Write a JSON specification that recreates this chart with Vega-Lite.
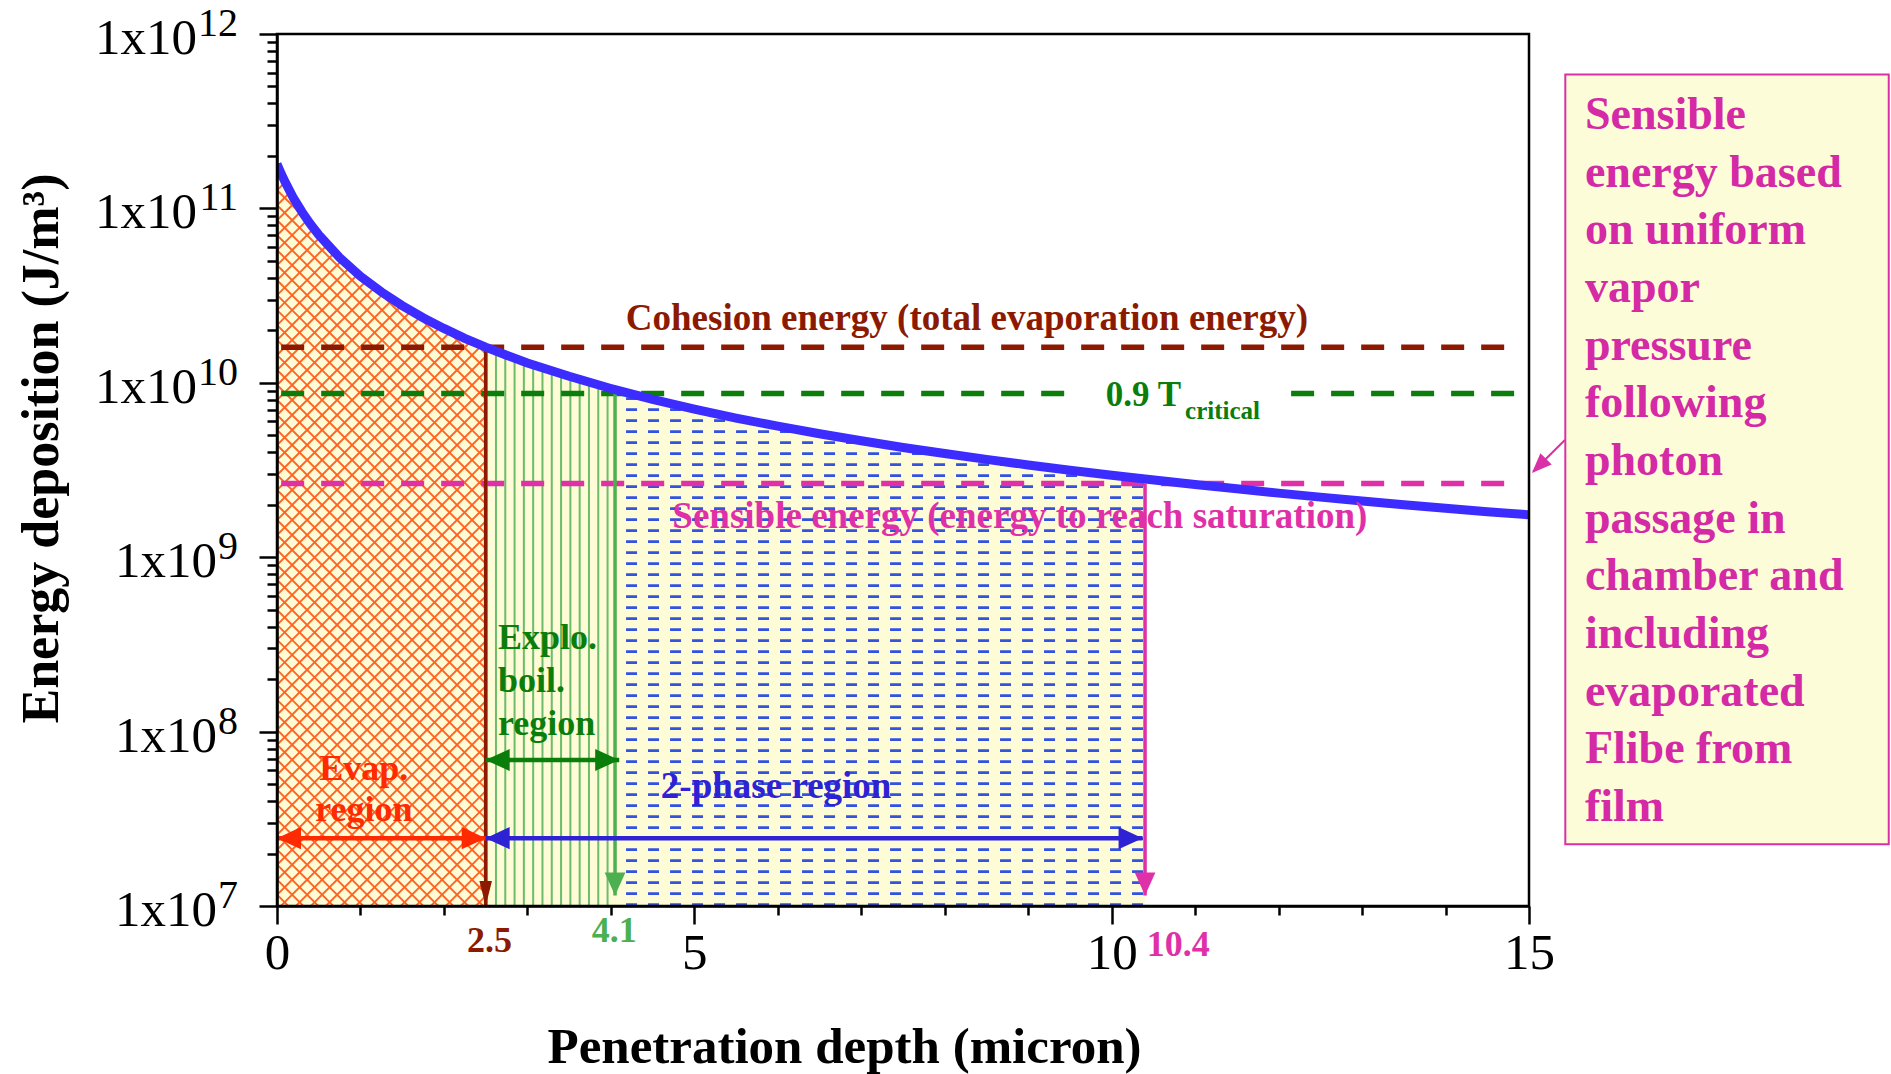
{
  "$schema": "https://vega.github.io/schema/vega-lite/v6.json",
  "width": 1252,
  "height": 872,
  "autosize": {"type": "none"},
  "padding": {"left": 277, "top": 34, "right": 362, "bottom": 168},
  "background": "white",
  "config": {"view": {"stroke": null}, "font": "Liberation Serif", "text": {"font": "Liberation Serif"}},
  "resolve": {"scale": {"color": "independent"}},
  "datasets": {
    "curve": [
      {"x": 0, "E": 1.80e11}, {"x": 0.05, "E": 1.58e11}, {"x": 0.1, "E": 1.41e11}, {"x": 0.2, "E": 1.14e11},
      {"x": 0.3, "E": 9.54e10}, {"x": 0.4, "E": 8.14e10}, {"x": 0.5, "E": 7.06e10}, {"x": 0.75, "E": 5.22e10},
      {"x": 1, "E": 4.08e10}, {"x": 1.25, "E": 3.32e10}, {"x": 1.5, "E": 2.77e10}, {"x": 1.75, "E": 2.36e10},
      {"x": 2, "E": 2.05e10}, {"x": 2.25, "E": 1.80e10}, {"x": 2.5, "E": 1.60e10}, {"x": 2.75, "E": 1.44e10},
      {"x": 3, "E": 1.30e10}, {"x": 3.5, "E": 1.09e10}, {"x": 4, "E": 9.27e9}, {"x": 4.05, "E": 9.13e9},
      {"x": 4.5, "E": 8.04e9}, {"x": 5, "E": 7.07e9}, {"x": 5.5, "E": 6.28e9}, {"x": 6, "E": 5.64e9},
      {"x": 6.5, "E": 5.10e9}, {"x": 7, "E": 4.65e9}, {"x": 7.5, "E": 4.26e9}, {"x": 8, "E": 3.93e9},
      {"x": 8.5, "E": 3.64e9}, {"x": 9, "E": 3.38e9}, {"x": 9.5, "E": 3.15e9}, {"x": 10, "E": 2.95e9},
      {"x": 10.4, "E": 2.81e9}, {"x": 11, "E": 2.61e9}, {"x": 11.5, "E": 2.47e9}, {"x": 12, "E": 2.33e9},
      {"x": 12.5, "E": 2.21e9}, {"x": 13, "E": 2.10e9}, {"x": 13.5, "E": 2.00e9}, {"x": 14, "E": 1.91e9},
      {"x": 14.5, "E": 1.82e9}, {"x": 15, "E": 1.75e9}
    ],
    "levels": [
      {"level": "cohesion", "E": 1.6e10, "from": 0.05, "to": 14.82},
      {"level": "tcrit", "E": 8.68e9, "from": 0.05, "to": 9.55},
      {"level": "tcrit", "E": 8.68e9, "from": 12.15, "to": 14.85},
      {"level": "sensible", "E": 2.65e9, "from": 0.05, "to": 14.88}
    ],
    "bounds": [
      {"bound": "cohesion", "x": 2.5, "top": 1.6e10, "tip": 1e7},
      {"bound": "tcrit", "x": 4.05, "top": 8.68e9, "tip": 1.15e7},
      {"bound": "sensible", "x": 10.4, "top": 2.65e9, "tip": 1.15e7}
    ],
    "spans": [
      {"span": "evap", "from": 0, "to": 2.5, "E": 2.45e7},
      {"span": "twophase", "from": 2.5, "to": 10.37, "E": 2.45e7},
      {"span": "explo", "from": 2.5, "to": 4.1, "E": 6.87e7}
    ],
    "yticks": [
      {"v": 1e12, "e": "12"}, {"v": 1e11, "e": "11"}, {"v": 1e10, "e": "10"},
      {"v": 1e9, "e": "9"}, {"v": 1e8, "e": "8"}, {"v": 1e7, "e": "7"}
    ]
  },
  "layer": [
    {
      "data": {"name": "curve"},
      "transform": [{"filter": "datum.x <= 2.5"}],
      "mark": {"type": "area", "fill": "#fdfcd6", "clip": true},
      "encoding": {
        "x": {
          "field": "x", "type": "quantitative",
          "scale": {"domain": [0, 15], "nice": false, "zero": false},
          "axis": {
            "values": [0, 1, 2, 3, 4, 5, 6, 7, 8, 9, 10, 11, 12, 13, 14, 15],
            "format": "d",
            "title": "Penetration depth (micron)",
            "titleFont": "Liberation Serif", "titleFontSize": 51, "titleFontWeight": "bold", "titleColor": "black",
            "titleX": 567, "titleY": 156, "titleBaseline": "alphabetic", "titleAlign": "center",
            "labelExpr": "datum.value % 5 == 0 ? datum.label : ''",
            "labelFont": "Liberation Serif", "labelFontSize": 51, "labelColor": "black",
            "labelBaseline": "alphabetic", "labelPadding": 44, "labelFlush": false, "labelOverlap": false, "labelBound": false,
            "tickSize": {"condition": {"test": "datum.value % 5 == 0", "value": 18}, "value": 9},
            "tickColor": "black", "tickWidth": 2.5,
            "domainColor": "black", "domainWidth": 2.5, "grid": false, "zindex": 2
          }
        },
        "y": {
          "field": "E", "type": "quantitative",
          "scale": {"type": "log", "domain": [1e7, 1e12], "nice": false},
          "axis": {
            "values": [1e7, 2e7, 3e7, 4e7, 5e7, 6e7, 7e7, 8e7, 9e7, 1e8, 2e8, 3e8, 4e8, 5e8, 6e8, 7e8, 8e8, 9e8, 1e9, 2e9, 3e9, 4e9, 5e9, 6e9, 7e9, 8e9, 9e9, 1e10, 2e10, 3e10, 4e10, 5e10, 6e10, 7e10, 8e10, 9e10, 1e11, 2e11, 3e11, 4e11, 5e11, 6e11, 7e11, 8e11, 9e11, 1e12],
            "labels": false,
            "title": "Energy deposition (J/m³)",
            "titleFont": "Liberation Serif", "titleFontSize": 52, "titleFontWeight": "bold", "titleColor": "black",
            "titleX": -220, "titleY": 414, "titleAngle": 270, "titleBaseline": "alphabetic", "titleAlign": "center",
            "tickSize": {"condition": {"test": "abs(log(datum.value)/LN10 - round(log(datum.value)/LN10)) < 0.001", "value": 18}, "value": 10},
            "tickColor": "black", "tickWidth": 2.5,
            "domainColor": "black", "domainWidth": 2.5, "grid": false, "zindex": 2
          }
        },
        "y2": {"datum": 1e7}
      }
    },
    {
      "data": {"values": [{}]},
      "mark": {"type": "rule", "clip": true, "stroke": "#ff6424", "strokeWidth": 690, "strokeDash": [1.9, 8.7], "strokeCap": "butt"},
      "encoding": {
        "x": {"datum": -1.629, "type": "quantitative", "scale": {"domain": [0, 15], "nice": false, "zero": false}},
        "y": {"datum": 3.19e10, "type": "quantitative", "scale": {"type": "log", "domain": [1e7, 1e12], "nice": false}},
        "x2": {"datum": 4.121},
        "y2": {"datum": 5.64e7}
      }
    },
    {
      "data": {"values": [{}]},
      "mark": {"type": "rule", "clip": true, "stroke": "#ff6424", "strokeWidth": 690, "strokeDash": [1.9, 8.7], "strokeCap": "butt"},
      "encoding": {
        "x": {"datum": -1.629, "type": "quantitative", "scale": {"domain": [0, 15], "nice": false, "zero": false}},
        "y": {"datum": 5.64e7, "type": "quantitative", "scale": {"type": "log", "domain": [1e7, 1e12], "nice": false}},
        "x2": {"datum": 4.121},
        "y2": {"datum": 3.19e10}
      }
    },
    {
      "data": {"name": "curve"},
      "transform": [{"filter": "datum.x >= 2.5 && datum.x <= 10.4"}],
      "mark": {"type": "area", "fill": "#fdfcd6", "clip": true},
      "encoding": {
        "x": {"field": "x", "type": "quantitative"},
        "y": {"field": "E", "type": "quantitative"},
        "y2": {"datum": 1e7}
      }
    },
    {
      "data": {"values": [{}]},
      "mark": {"type": "rule", "clip": true, "stroke": "#6cbc6c", "strokeWidth": 580, "strokeDash": [2, 7.3], "strokeCap": "butt"},
      "encoding": {
        "x": {"datum": 2.5, "type": "quantitative"},
        "x2": {"datum": 4.05},
        "y": {"datum": 4.03e8, "type": "quantitative"}
      }
    },
    {
      "data": {"values": [{}]},
      "mark": {"type": "rule", "clip": true, "stroke": "#3452e0", "strokeWidth": 530, "strokeDash": [2.7, 8.3], "strokeCap": "butt"},
      "encoding": {
        "x": {"datum": 7.225, "type": "quantitative"},
        "y": {"datum": 1e7, "type": "quantitative"},
        "y2": {"datum": 1.2e10}
      }
    },
    {
      "data": {"values": [{}]},
      "mark": {"type": "rule", "clip": true, "stroke": "#fdfcd6", "strokeWidth": 530, "strokeDash": [11, 11], "strokeCap": "butt"},
      "encoding": {
        "x": {"datum": 4.05, "type": "quantitative"},
        "x2": {"datum": 10.4},
        "y": {"datum": 3.02e8, "type": "quantitative"}
      }
    },
    {
      "data": {"name": "curve"},
      "mark": {"type": "area", "fill": "white", "clip": true},
      "encoding": {
        "x": {"field": "x", "type": "quantitative"},
        "y": {"field": "E", "type": "quantitative"},
        "y2": {"datum": 1e12}
      }
    },
    {
      "data": {"name": "levels"},
      "mark": {"type": "rule", "strokeWidth": 5.5, "strokeDash": [23, 17], "strokeCap": "butt"},
      "encoding": {
        "x": {"field": "from", "type": "quantitative"},
        "x2": {"field": "to"},
        "y": {"field": "E", "type": "quantitative"},
        "color": {"field": "level", "type": "nominal", "legend": null,
          "scale": {"domain": ["cohesion", "tcrit", "sensible"], "range": ["#8b1a00", "#0a7d0a", "#e030a8"]}}
      }
    },
    {
      "data": {"name": "bounds"},
      "mark": {"type": "rule", "strokeWidth": 3.5},
      "encoding": {
        "x": {"field": "x", "type": "quantitative"},
        "y": {"field": "top", "type": "quantitative"},
        "y2": {"field": "tip"},
        "color": {"field": "bound", "type": "nominal", "legend": null,
          "scale": {"domain": ["cohesion", "tcrit", "sensible"], "range": ["#8b1a00", "#4caf50", "#e030a8"]}}
      }
    },
    {
      "data": {"name": "curve"},
      "mark": {"type": "line", "stroke": "#3c2cff", "strokeWidth": 9, "clip": true},
      "encoding": {
        "x": {"field": "x", "type": "quantitative"},
        "y": {"field": "E", "type": "quantitative"}
      }
    },
    {
      "data": {"name": "spans"},
      "mark": {"type": "rule", "strokeWidth": 4.5},
      "encoding": {
        "x": {"field": "from", "type": "quantitative"},
        "x2": {"field": "to"},
        "y": {"field": "E", "type": "quantitative"},
        "color": {"field": "span", "type": "nominal", "legend": null,
          "scale": {"domain": ["evap", "twophase", "explo"], "range": ["#ff2a00", "#2e22d4", "#0a7d0a"]}}
      }
    },
    {
      "data": {"name": "spans"},
      "mark": {"type": "point", "shape": "M0,0L1,-0.46L1,0.46Z", "size": 2304, "filled": true, "opacity": 1, "strokeWidth": 0},
      "encoding": {
        "x": {"field": "from", "type": "quantitative"},
        "y": {"field": "E", "type": "quantitative"},
        "color": {"field": "span", "type": "nominal", "legend": null,
          "scale": {"domain": ["evap", "twophase", "explo"], "range": ["#ff2a00", "#2e22d4", "#0a7d0a"]}}
      }
    },
    {
      "data": {"name": "spans"},
      "mark": {"type": "point", "shape": "M0,0L-1,-0.46L-1,0.46Z", "size": 2304, "filled": true, "opacity": 1, "strokeWidth": 0},
      "encoding": {
        "x": {"field": "to", "type": "quantitative"},
        "y": {"field": "E", "type": "quantitative"},
        "color": {"field": "span", "type": "nominal", "legend": null,
          "scale": {"domain": ["evap", "twophase", "explo"], "range": ["#ff2a00", "#2e22d4", "#0a7d0a"]}}
      }
    },
    {
      "data": {"name": "bounds"},
      "transform": [{"filter": "datum.bound == 'cohesion'"}],
      "mark": {"type": "point", "shape": "M0,0L-0.25,-1L0.25,-1Z", "size": 2500, "filled": true, "opacity": 1, "strokeWidth": 0, "fill": "#8b1a00"},
      "encoding": {
        "x": {"field": "x", "type": "quantitative"},
        "y": {"field": "tip", "type": "quantitative"}
      }
    },
    {
      "data": {"name": "bounds"},
      "transform": [{"filter": "datum.bound != 'cohesion'"}],
      "mark": {"type": "point", "shape": "M0,0L-0.45,-1L0.45,-1Z", "size": 2116, "filled": true, "opacity": 1, "strokeWidth": 0},
      "encoding": {
        "x": {"field": "x", "type": "quantitative"},
        "y": {"field": "tip", "type": "quantitative"},
        "color": {"field": "bound", "type": "nominal", "legend": null,
          "scale": {"domain": ["tcrit", "sensible"], "range": ["#4caf50", "#e030a8"]}}
      }
    },
    {
      "data": {"values": [{}]},
      "mark": {"type": "rect", "fillOpacity": 0, "stroke": "black", "strokeWidth": 2.5},
      "encoding": {
        "x": {"datum": 0, "type": "quantitative"},
        "x2": {"datum": 15},
        "y": {"datum": 1e7, "type": "quantitative"},
        "y2": {"datum": 1e12}
      }
    },
    {
      "data": {"values": [{}]},
      "mark": {"type": "text", "text": "Cohesion energy (total evaporation energy)", "font": "Liberation Serif", "fontSize": 37, "fontWeight": "bold", "color": "#8b1a00", "align": "center", "baseline": "alphabetic"},
      "encoding": {"x": {"datum": 8.266, "type": "quantitative"}, "y": {"datum": 2.01e10, "type": "quantitative"}}
    },
    {
      "data": {"values": [{}]},
      "mark": {"type": "text", "text": "0.9 T", "font": "Liberation Serif", "fontSize": 35, "fontWeight": "bold", "color": "#0a7d0a", "align": "left", "baseline": "alphabetic"},
      "encoding": {"x": {"datum": 9.93, "type": "quantitative"}, "y": {"datum": 7.36e9, "type": "quantitative"}}
    },
    {
      "data": {"values": [{}]},
      "mark": {"type": "text", "text": "critical", "font": "Liberation Serif", "fontSize": 25, "fontWeight": "bold", "color": "#0a7d0a", "align": "left", "baseline": "alphabetic"},
      "encoding": {"x": {"datum": 10.88, "type": "quantitative"}, "y": {"datum": 6.2e9, "type": "quantitative"}}
    },
    {
      "data": {"values": [{}]},
      "mark": {"type": "text", "text": "Sensible energy (energy to reach saturation)", "font": "Liberation Serif", "fontSize": 37, "fontWeight": "bold", "color": "#e030a8", "align": "center", "baseline": "alphabetic"},
      "encoding": {"x": {"datum": 8.9, "type": "quantitative"}, "y": {"datum": 1.47e9, "type": "quantitative"}}
    },
    {
      "data": {"values": [{}]},
      "mark": {"type": "text", "text": ["Explo.", "boil.", "region"], "lineHeight": 43, "font": "Liberation Serif", "fontSize": 36, "fontWeight": "bold", "color": "#0a7d0a", "align": "left", "baseline": "alphabetic"},
      "encoding": {"x": {"datum": 2.648, "type": "quantitative"}, "y": {"datum": 2.98e8, "type": "quantitative"}}
    },
    {
      "data": {"values": [{}]},
      "mark": {"type": "text", "text": ["Evap.", "region"], "lineHeight": 41, "font": "Liberation Serif", "fontSize": 36, "fontWeight": "bold", "color": "#ff2a00", "align": "center", "baseline": "alphabetic"},
      "encoding": {"x": {"datum": 1.04, "type": "quantitative"}, "y": {"datum": 5.28e7, "type": "quantitative"}}
    },
    {
      "data": {"values": [{}]},
      "mark": {"type": "text", "text": "2-phase region", "font": "Liberation Serif", "fontSize": 37, "fontWeight": "bold", "color": "#2e22d4", "align": "center", "baseline": "alphabetic"},
      "encoding": {"x": {"datum": 5.98, "type": "quantitative"}, "y": {"datum": 4.16e7, "type": "quantitative"}}
    },
    {
      "data": {"values": [{}]},
      "mark": {"type": "text", "text": "2.5", "font": "Liberation Serif", "fontSize": 36, "fontWeight": "bold", "color": "#8b1a00", "align": "center", "baseline": "alphabetic"},
      "encoding": {"x": {"datum": 2.546, "type": "quantitative"}, "y": {"datum": 5.45e6, "type": "quantitative", "scale": {"type": "log", "domain": [1e7, 1e12], "nice": false}}}
    },
    {
      "data": {"values": [{}]},
      "mark": {"type": "text", "text": "4.1", "font": "Liberation Serif", "fontSize": 36, "fontWeight": "bold", "color": "#4caf50", "align": "center", "baseline": "alphabetic"},
      "encoding": {"x": {"datum": 4.04, "type": "quantitative"}, "y": {"datum": 6.22e6, "type": "quantitative", "scale": {"type": "log", "domain": [1e7, 1e12], "nice": false}}}
    },
    {
      "data": {"values": [{}]},
      "mark": {"type": "text", "text": "10.4", "font": "Liberation Serif", "fontSize": 36, "fontWeight": "bold", "color": "#e030a8", "align": "left", "baseline": "alphabetic"},
      "encoding": {"x": {"datum": 10.42, "type": "quantitative"}, "y": {"datum": 5.17e6, "type": "quantitative", "scale": {"type": "log", "domain": [1e7, 1e12], "nice": false}}}
    },
    {
      "data": {"values": [{}]},
      "mark": {"type": "rect", "fill": "#fdfcd8", "stroke": "#d930a8", "strokeWidth": 2},
      "encoding": {
        "x": {"datum": 15.435, "type": "quantitative", "scale": {"domain": [0, 15], "nice": false, "zero": false}},
        "x2": {"datum": 19.31},
        "y": {"datum": 5.86e11, "type": "quantitative"},
        "y2": {"datum": 2.26e7}
      }
    },
    {
      "data": {"values": [{}]},
      "mark": {"type": "text", "text": ["Sensible", "energy based", "on uniform", "vapor", "pressure", "following", "photon", "passage in", "chamber and", "including", "evaporated", "Flibe from", "film"], "lineHeight": 57.65, "font": "Liberation Serif", "fontSize": 46, "fontWeight": "bold", "color": "#d42aa6", "align": "left", "baseline": "alphabetic"},
      "encoding": {"x": {"datum": 15.67, "type": "quantitative", "scale": {"domain": [0, 15], "nice": false, "zero": false}}, "y": {"datum": 2.85e11, "type": "quantitative"}}
    },
    {
      "data": {"values": [{}]},
      "mark": {"type": "rule", "stroke": "#d930a8", "strokeWidth": 2},
      "encoding": {
        "x": {"datum": 15.43, "type": "quantitative", "scale": {"domain": [0, 15], "nice": false, "zero": false}},
        "y": {"datum": 4.7e9, "type": "quantitative"},
        "x2": {"datum": 15.05},
        "y2": {"datum": 3.1e9}
      }
    },
    {
      "data": {"values": [{}]},
      "mark": {"type": "point", "shape": "M0,0L0.99,-0.424L0.424,-0.99Z", "size": 1600, "filled": true, "opacity": 1, "strokeWidth": 0, "fill": "#d930a8"},
      "encoding": {
        "x": {"datum": 15.035, "type": "quantitative", "scale": {"domain": [0, 15], "nice": false, "zero": false}},
        "y": {"datum": 3.04e9, "type": "quantitative"}
      }
    },
    {
      "data": {"name": "yticks"},
      "transform": [{"filter": "length(datum.e) == 2"}],
      "mark": {"type": "text", "text": "1x10", "font": "Liberation Serif", "fontSize": 51, "color": "black", "align": "right", "baseline": "alphabetic", "dy": 20},
      "encoding": {
        "x": {"datum": -0.958, "type": "quantitative", "scale": {"domain": [0, 15], "nice": false, "zero": false}},
        "y": {"field": "v", "type": "quantitative"}
      }
    },
    {
      "data": {"name": "yticks"},
      "transform": [{"filter": "length(datum.e) == 1"}],
      "mark": {"type": "text", "text": "1x10", "font": "Liberation Serif", "fontSize": 51, "color": "black", "align": "right", "baseline": "alphabetic", "dy": 20},
      "encoding": {
        "x": {"datum": -0.719, "type": "quantitative", "scale": {"domain": [0, 15], "nice": false, "zero": false}},
        "y": {"field": "v", "type": "quantitative"}
      }
    },
    {
      "data": {"name": "yticks"},
      "mark": {"type": "text", "font": "Liberation Serif", "fontSize": 40, "color": "black", "align": "right", "baseline": "alphabetic", "dy": 2},
      "encoding": {
        "x": {"datum": -0.467, "type": "quantitative", "scale": {"domain": [0, 15], "nice": false, "zero": false}},
        "y": {"field": "v", "type": "quantitative"},
        "text": {"field": "e", "type": "nominal"}
      }
    }
  ]
}
